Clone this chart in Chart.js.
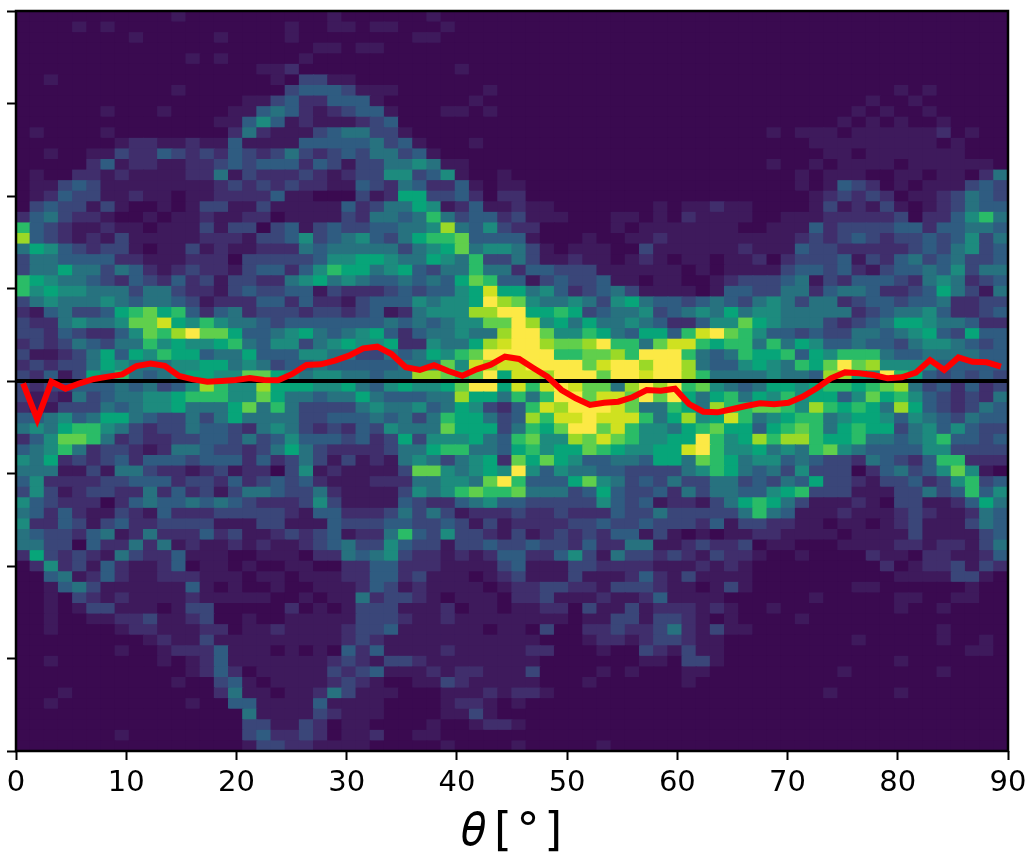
<!DOCTYPE html>
<html>
<head>
<meta charset="utf-8">
<title>theta histogram</title>
<style>
  html, body { margin: 0; padding: 0; background: #fff; }
  canvas { display: block; }
</style>
<script src="https://cdn.jsdelivr.net/npm/chart.js@4/dist/chart.umd.min.js"></script>
</head>
<body>
<canvas id="canvas" width="1027" height="856"></canvas>
<script>
// histogram counts, as levels 0-c, top row first, 70 bins per row
var countRows = [
  "000000000001000000 00001000000100000 00000000000000000 000000000000000000",
  "000010100000000000 01001101100010000 00000000000000000 000000000000000000",
  "000000001000001000 01000000001100000 00000000000000000 000000000000000000",
  "000000000000000000 00011011000000000 00000000000000000 000000000000000000",
  "000000000000101000 00100000000000000 00000000000000000 000000000000000000",
  "000000000000000001 12000000000001000 00000000000000000 000000000000000000",
  "001000000000000000 10331100000000000 00000000000000000 000000000000000000",
  "000000000001000000 03444311100000010 00000000000000000 000000000010100000",
  "000000000000000011 34224441000000100 00000000000000000 000000001001000000",
  "000000100010000114 54212344100011010 00000000000000000 000000010100100000",
  "000000000000001146 41211123400000000 00000000000000000 000000101010010000",
  "010000100000000252 11134553310000000 00000000000000000 010111011111120100",
  "000000012211211411 11444445341000100 00000000000000000 000011111111101000",
  "001001132243232432 35323435534100000 00000000000000000 000001101111111000",
  "000002412211223434 44243133556511000 00000000000000000 010010111101111110",
  "010022121111225132 22321233663461001 00000000000000000 000101110011011025",
  "011343111111112323 23221143254224101 10000000000000000 000101432010111343",
  "012433112110112222 41100031277334202 20000000000000000 000012323201123543",
  "034331310010133113 11111423557612411 21100000001011211 000013121310123544",
  "245322100101121122 01111325545853442 31110001101021111 001112222230224685",
  "843211211011131330 341343344556a5463 22000001011111110 011142333344244554",
  "a43212131111122213 34634564357889444 41000100112111111 111232343233434635",
  "576432331011312112 22545555535679566 53101110031111112 111433222223435634",
  "355444422111222033 33346677655765833 53112110121011011 202333413245345334",
  "355755354212322134 42468775674355855 24433311111101011 113443421344546355",
  "876554324324231332 25675654454547984 41343341101100123 334513244432565234",
  "867665553553221343 344132223434467b7 75642345311110144 335524554223475315",
  "356555654554312224 424221344465667ca 96556536754434543 565355234434452233",
  "214533478978424523 33233234125666aac c7787345563456575 665555523455642234",
  "3225655699b7686554 34444444545456699 ca675755654224669 765553234577655422",
  "33243224698ac99744 5675456742455655a cc96687547748bc98 644343355456743744",
  "232354355867667854 663567667226557ab cca99ac8859bb8788 585764454435665434",
  "311235747687745574 446655335457689cc ccc8899a8ccc85458 778476888544555544",
  "232335765556677565 34454444455596bab bcccc9bccacca5446 765879c9a666644444",
  "324137685456776699 7656655455aa989c7 bbaccc9ccbcca8555 56554aa76c87434343",
  "3233444545346a866a 77766754676679cc7 b8bcb995acac89654 5776788789a5342423",
  "312153455667888669 7554557544455a775 858cc9bb9c9c75785 768677469786432325",
  "211333545667555795 85333356556457632 48bacccb955875a88 9986a87875a7432354",
  "445645775433535755 55334445453587753 4a8bbcbbb857a67b8 567885677646543544",
  "565788653233544325 65323243655597773 5879cc9b866578977 478985787735646433",
  "246998523223344353 46444342373666754 8966a9b986677c867 a8aa87785545684434",
  "456852332125543323 57532222355788554 786779876677bc866 756589654444663333",
  "657232342444344424 23531312156535672 97976445547759875 664543325432488222",
  "555113155322123122 03612111139965676 c6465544333356875 453633302453469610",
  "462222334442332423 4342111222556659c 84447965343533553 435473321334236834",
  "363123322524231355 43352111136568988 95553474334253554 467833311133534846",
  "643222024544545432 22363111143224564 43333364341221357 875311121033112475",
  "542421132142223333 32144222353531222 32232224335333335 854111211123211254",
  "622431342233331113 31114333443343131 22223343343332413 322110110123111354",
  "543324512522242311 23234122584363321 31232324413101011 221111011113111134",
  "553304225251211212 11234533643313343 34332422551123223 011000111122122135",
  "273232153224111001 11022545632212124 42246315332321322 100100002110221124",
  "026231421124011010 01100224422211113 41113322221112121 000000000201223132",
  "004512421122211101 10111224423111012 31113111242131111 000000000011113310",
  "001453111111410100 10011124312111101 22332213332110131 000000011000000100",
  "001032121111211111 00101152332101110 22311121124111100 000010000011001100",
  "001013311101330000 02010133311120110 11220311312221210 010000000010010000",
  "001001122311230010 01111133321121111 11110113313321010 000100000000000000",
  "001000012211122011 21111233411111101 10300223223521311 000000000000010000",
  "000000000121131111 11111232111111111 11000122123321100 000000010000010010",
  "000000010012224111 01010424111121111 12200010032131100 000000000000000110",
  "001000000010124111 11112321332111111 11000000011033100 000000000010000000",
  "000000000000124201 11113234111212211 13000010100011000 000000100000010000",
  "000000000001003410 11112321001132111 11000100000010000 000000000000000000",
  "000100000000002511 01125311100011121 22100000000000000 000001000010000000",
  "001000000000100441 11141111000012210 10000000000000000 000000000000000000",
  "000000000000000051 11132111000011310 00000000000000000 000000000000000000",
  "000000000000000033 11320110000100122 10000000000000000 000000000000000000",
  "000000010000000034 22320112001100000 00000000000000000 000000000000000000",
  "000000000000000013 32211110000010000 10000010000000000 000000000000000000"
];

// mean of each theta bin (red line)
var binMeans = [
  -0.025, -0.414, -0.008, -0.083, -0.025, 0.022, 0.047, 0.072, 0.162, 0.19,
  0.165, 0.054, 0.018, -0.008, 0, 0.011, 0.032, 0.011, 0.008, 0.076,
  0.173, 0.18, 0.22, 0.274, 0.353, 0.371, 0.292, 0.148, 0.119, 0.17,
  0.108, 0.057, 0.126, 0.176, 0.263, 0.238, 0.141, 0.046, -0.097, -0.187,
  -0.259, -0.235, -0.224, -0.176, -0.097, -0.105, -0.084, -0.249, -0.332, -0.339,
  -0.306, -0.27, -0.241, -0.252, -0.235, -0.17, -0.079, 0.029, 0.093, 0.083,
  0.065, 0.029, 0.04, 0.09, 0.227, 0.119, 0.255, 0.208, 0.202, 0.155
];

var thetaRange = [0, 90];
var valueRange = [-4, 4];
var zeroLevel = 0;
var xAxisTitle = "\u{1D703}\u2009[\u200A°\u200A]";

var levelColors = [
  "#3a0a50", "#3e1a5c", "#402e6c", "#3a4679", "#2f5c81", "#27727f", "#1d8b7e",
  "#07a579", "#2abc67", "#60cf4c", "#9bd927", "#cfe120", "#fce945"
];

var binCount = binMeans.length;
var rowCount = countRows.length;
var binWidth = (thetaRange[1] - thetaRange[0]) / binCount;
var rowHeight = (valueRange[1] - valueRange[0]) / rowCount;

function binCentre(i) {
  return thetaRange[0] + (i + 0.5) * binWidth;
}

var cells = [];
var cellColors = [];
countRows.forEach(function(row, r) {
  var levels = row.replace(/ /g, "");
  for (var c = 0; c < levels.length; c++) {
    var top = valueRange[1] - r * rowHeight;
    // overlap the next row a little so no seams show between the bars
    cells.push({ x: binCentre(c), y: [top - rowHeight * 1.1, top] });
    cellColors.push(levelColors[parseInt(levels[c], 16)]);
  }
});

var frame = {
  id: "frame",
  beforeDatasetsDraw: function(chart) {
    var a = chart.chartArea, ctx = chart.ctx;
    ctx.save();
    ctx.fillStyle = levelColors[0];
    ctx.fillRect(a.left, a.top, a.right - a.left, a.bottom - a.top);
    ctx.restore();
  },
  afterDraw: function(chart) {
    var a = chart.chartArea, ctx = chart.ctx;
    ctx.save();
    ctx.strokeStyle = "#000";
    ctx.lineWidth = 2.5;
    ctx.strokeRect(a.left, a.top, a.right - a.left, a.bottom - a.top);
    ctx.restore();
  }
};

new Chart(document.getElementById("canvas"), {
  data: {
    datasets: [
      {
        type: "line",
        data: binMeans.map(function(v, i) { return { x: binCentre(i), y: v }; }),
        borderColor: "#ff0000",
        borderWidth: 6,
        pointRadius: 0,
        tension: 0,
        order: 1
      },
      {
        type: "line",
        data: thetaRange.map(function(t) { return { x: t, y: zeroLevel }; }),
        borderColor: "#000000",
        borderWidth: 4,
        pointRadius: 0,
        order: 2
      },
      {
        type: "bar",
        data: cells,
        backgroundColor: cellColors,
        borderWidth: 0,
        barPercentage: 1.08,
        categoryPercentage: 1,
        grouped: false,
        order: 3
      }
    ]
  },
  options: {
    responsive: false,
    animation: false,
    events: [],
    layout: { padding: { top: 11, right: 19, left: 0, bottom: 0 } },
    plugins: { legend: { display: false }, tooltip: { enabled: false } },
    scales: {
      x: {
        type: "linear",
        offset: false,
        min: thetaRange[0],
        max: thetaRange[1],
        afterFit: function(s) {
          s.height = 105;
          s.paddingLeft = 0;
          s.paddingRight = 0;
        },
        grid: { offset: false, drawOnChartArea: false, tickLength: 9, tickWidth: 2, tickColor: "#000" },
        border: { display: false },
        ticks: {
          stepSize: 10,
          maxRotation: 0,
          padding: 6,
          color: "#000",
          font: { family: "'DejaVu Sans'", size: 29 }
        },
        title: {
          display: true,
          text: xAxisTitle,
          color: "#000",
          padding: { top: 0, bottom: 0 },
          font: { family: "'DejaVu Sans'", size: 46, lineHeight: 1 }
        }
      },
      y: {
        min: valueRange[0],
        max: valueRange[1],
        afterFit: function(s) {
          s.width = 16;
          s.paddingTop = 0;
          s.paddingBottom = 0;
        },
        grid: { drawOnChartArea: false, tickLength: 9, tickWidth: 2, tickColor: "#000" },
        border: { display: false },
        ticks: {
          stepSize: 1,
          padding: 0,
          callback: function() { return ""; }
        }
      }
    }
  },
  plugins: [frame]
});
</script>
</body>
</html>
